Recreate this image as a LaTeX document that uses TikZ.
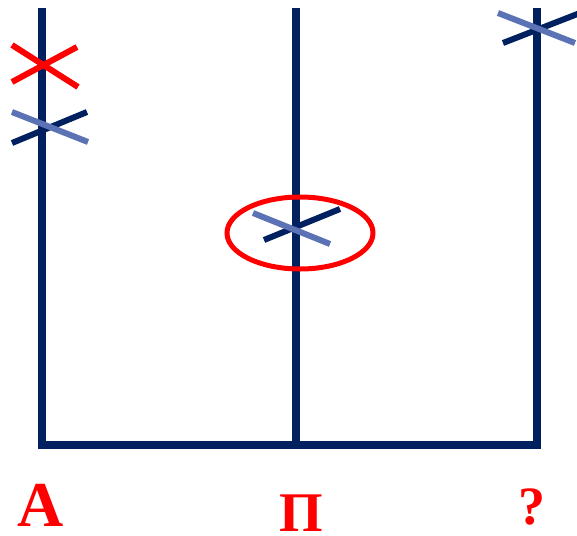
\documentclass[tikz,border=0pt]{standalone}
\usepackage{fontspec}
\setmainfont{Liberation Serif}
\definecolor{navy}{RGB}{0,32,96}
\definecolor{paleblue}{RGB}{91,114,181}
\definecolor{markred}{RGB}{255,0,0}
\tikzset{
  stem/.style={navy, line width=8pt},
  darkbar/.style={navy, line width=6pt},
  lightbar/.style={paleblue, line width=6pt},
  redbar/.style={markred, line width=6pt},
  letter/.style={text=markred, font=\bfseries, anchor=base, inner sep=0pt}
}
\begin{document}
\begin{tikzpicture}[x=1pt, y=-1pt]
    \useasboundingbox (0,0) rectangle (577,535);

    % the three uprights and the base
    \coordinate (topA) at (42,8);
    \coordinate (topP) at (296,8);
    \coordinate (topQ) at (537,8);
    \coordinate (footA) at (42,445);
    \coordinate (footP) at (296,445);
    \coordinate (footQ) at (537,445);
    \draw[stem, line join=miter] (topA) -- (footA) -- (footQ) -- (topQ);
    \draw[stem] (topP) -- (footP);

    % crossed-out mark on the left
    \draw[redbar] (12,45) -- (78,87);
    \draw[redbar] (12,82) -- (77,47);

    % two-tone marks
    \draw[darkbar] (12,143) -- (87,112);
    \draw[lightbar] (12,112) -- (88,142);

    \draw[darkbar] (264,240) -- (340,209);
    \draw[lightbar] (253,213) -- (330,244);

    \draw[darkbar] (503,43) -- (580,13);
    \draw[lightbar] (498,13) -- (575,43);

    % ring round the middle mark
    \draw[markred, line width=5pt] (300,233) ellipse [x radius=73, y radius=36];

    % labels
    \node[letter, font=\bfseries\fontsize{64}{64}\selectfont] (labA) at (40.5,526) {A};
    \node[letter, font=\bfseries\fontsize{56}{56}\selectfont] (labP) at (301,531) {П};
    \node[letter, font=\bfseries\fontsize{54}{54}\selectfont] (labQ) at (532,524) {?};
\end{tikzpicture}
\end{document}
